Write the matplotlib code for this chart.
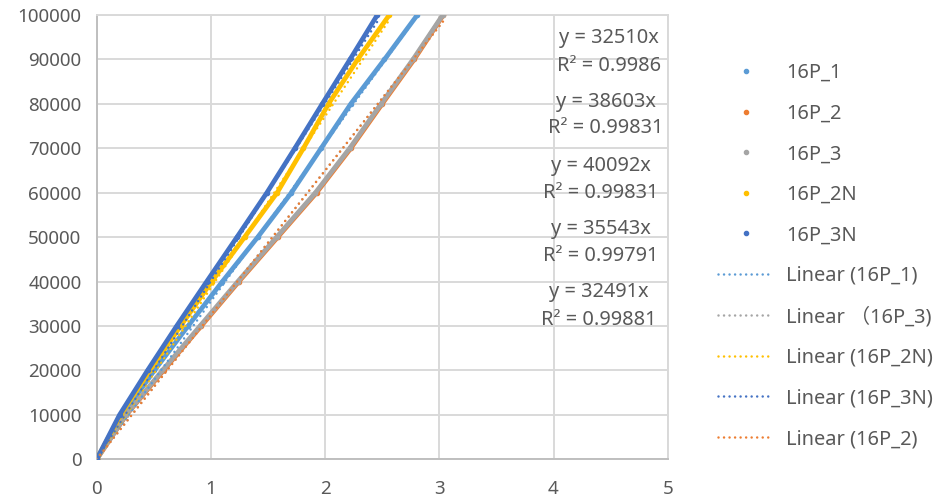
import matplotlib
matplotlib.use('Agg')
import matplotlib.pyplot as plt

plt.rcParams['font.family'] = ['Noto Sans', 'Noto Sans CJK SC', 'DejaVu Sans']

# ---- data ----
load_levels = [0, 10000, 20000, 30000, 40000, 50000, 60000, 70000, 80000, 90000, 100000]
x_16P_1 = [0, 0.225, 0.505, 0.800, 1.100, 1.410, 1.705, 1.965, 2.225, 2.520, 2.807]
x_16P_2 = [0, 0.260, 0.585, 0.915, 1.245, 1.585, 1.925, 2.225, 2.500, 2.780, 3.035]
x_16P_3 = [0, 0.255, 0.575, 0.905, 1.235, 1.575, 1.915, 2.215, 2.490, 2.770, 3.030]
x_16P_2N = [0, 0.210, 0.465, 0.735, 1.007, 1.295, 1.580, 1.810, 2.030, 2.285, 2.562]
x_16P_3N = [0, 0.200, 0.445, 0.700, 0.963, 1.228, 1.490, 1.735, 1.975, 2.218, 2.457]

series_names = ['16P_1', '16P_2', '16P_3', '16P_2N', '16P_3N']
series_x = [x_16P_1, x_16P_2, x_16P_3, x_16P_2N, x_16P_3N]
series_colors = ['#5B9BD5', '#ED7D31', '#A5A5A5', '#FFC000', '#4472C4']

trend_slopes = [35543, 32491, 32510, 38603, 40092]          # same order as series_names
trend_order = ['16P_1', '16P_3', '16P_2N', '16P_3N', '16P_2']
trend_labels = ['Linear (16P_1)', 'Linear （16P_3)', 'Linear (16P_2N)', 'Linear (16P_3N)', 'Linear (16P_2)']

eq_texts = ['y = 32510x', 'y = 38603x', 'y = 40092x', 'y = 35543x', 'y = 32491x']
r2_texts = ['R² = 0.9986', 'R² = 0.99831', 'R² = 0.99831', 'R² = 0.99791', 'R² = 0.99881']

x_ticks = [0, 1, 2, 3, 4, 5]
y_ticks = [0, 10000, 20000, 30000, 40000, 50000, 60000, 70000, 80000, 90000, 100000]

# ---- figure ----
W, H = 934, 503
fig = plt.figure(figsize=(W / 100, H / 100), dpi=100)
ax_left, ax_right, ax_top, ax_bottom = 96.7, 667.7, 15.0, 459.3
ax = fig.add_axes([ax_left / W, 1 - ax_bottom / H, (ax_right - ax_left) / W, (ax_bottom - ax_top) / H])

text_color = '#595959'
grid_color = '#D9D9D9'
dot_style = (0, (0.01, 2.2))

handles = {}
for name, xs, col in zip(series_names, series_x, series_colors):
    ax.plot(xs, load_levels, '-', color=col, lw=3.4, solid_capstyle='round', zorder=3)
    h, = ax.plot(xs, load_levels, 'o', color=col, ms=3.0, ls='none', zorder=3, label=name)
    handles[name] = h

trend_handles = []
for name, lab in zip(trend_order, trend_labels):
    i = series_names.index(name)
    xmax = max(series_x[i])
    xs = [0, xmax]
    ys = [0, trend_slopes[i] * xmax]
    h, = ax.plot(xs, ys, color=series_colors[i], lw=1.8, ls=dot_style,
                 dash_capstyle='round', zorder=4, label=lab)
    trend_handles.append(h)

ax.set_xlim(0, 5)
ax.set_ylim(0, 100000)
ax.set_xticks(x_ticks)
ax.set_yticks(y_ticks)
ax.set_xticklabels([str(t) for t in x_ticks])
ax.set_yticklabels([str(t) for t in y_ticks])
ax.grid(True, color=grid_color, lw=1.4, zorder=0)
ax.set_axisbelow(True)
ax.tick_params(length=0, labelsize=13.5, labelcolor=text_color)
ax.tick_params(axis='x', pad=15)
ax.tick_params(axis='y', pad=11)
for s in ['top', 'right']:
    ax.spines[s].set_color(grid_color)
    ax.spines[s].set_linewidth(1.4)
for s in ['left', 'bottom']:
    ax.spines[s].set_color('#BFBFBF')
    ax.spines[s].set_linewidth(1.4)

# ---- trendline equations ----
eq_pos = [(609, 38, 66), (606, 102, 128), (601, 166, 193), (601, 229, 256), (599, 292, 320)]
for (cx, y1, y2), e, r in zip(eq_pos, eq_texts, r2_texts):
    fig.text(cx / W, 1 - y1 / H, e, ha='center', va='center', fontsize=14.4, color=text_color)
    fig.text(cx / W, 1 - y2 / H, r, ha='center', va='center', fontsize=14.4, color=text_color)

# ---- legend ----
all_handles = [handles[n] for n in series_names] + trend_handles
leg = fig.legend(handles=all_handles, loc='upper left', bbox_to_anchor=(718 / W, 1 - 63 / H),
                 frameon=False, fontsize=14.4, handlelength=2.75, handletextpad=0.65,
                 labelspacing=1.03, borderpad=0, borderaxespad=0)
for t in leg.get_texts():
    t.set_color(text_color)

fig.savefig('out.png', dpi=100)
